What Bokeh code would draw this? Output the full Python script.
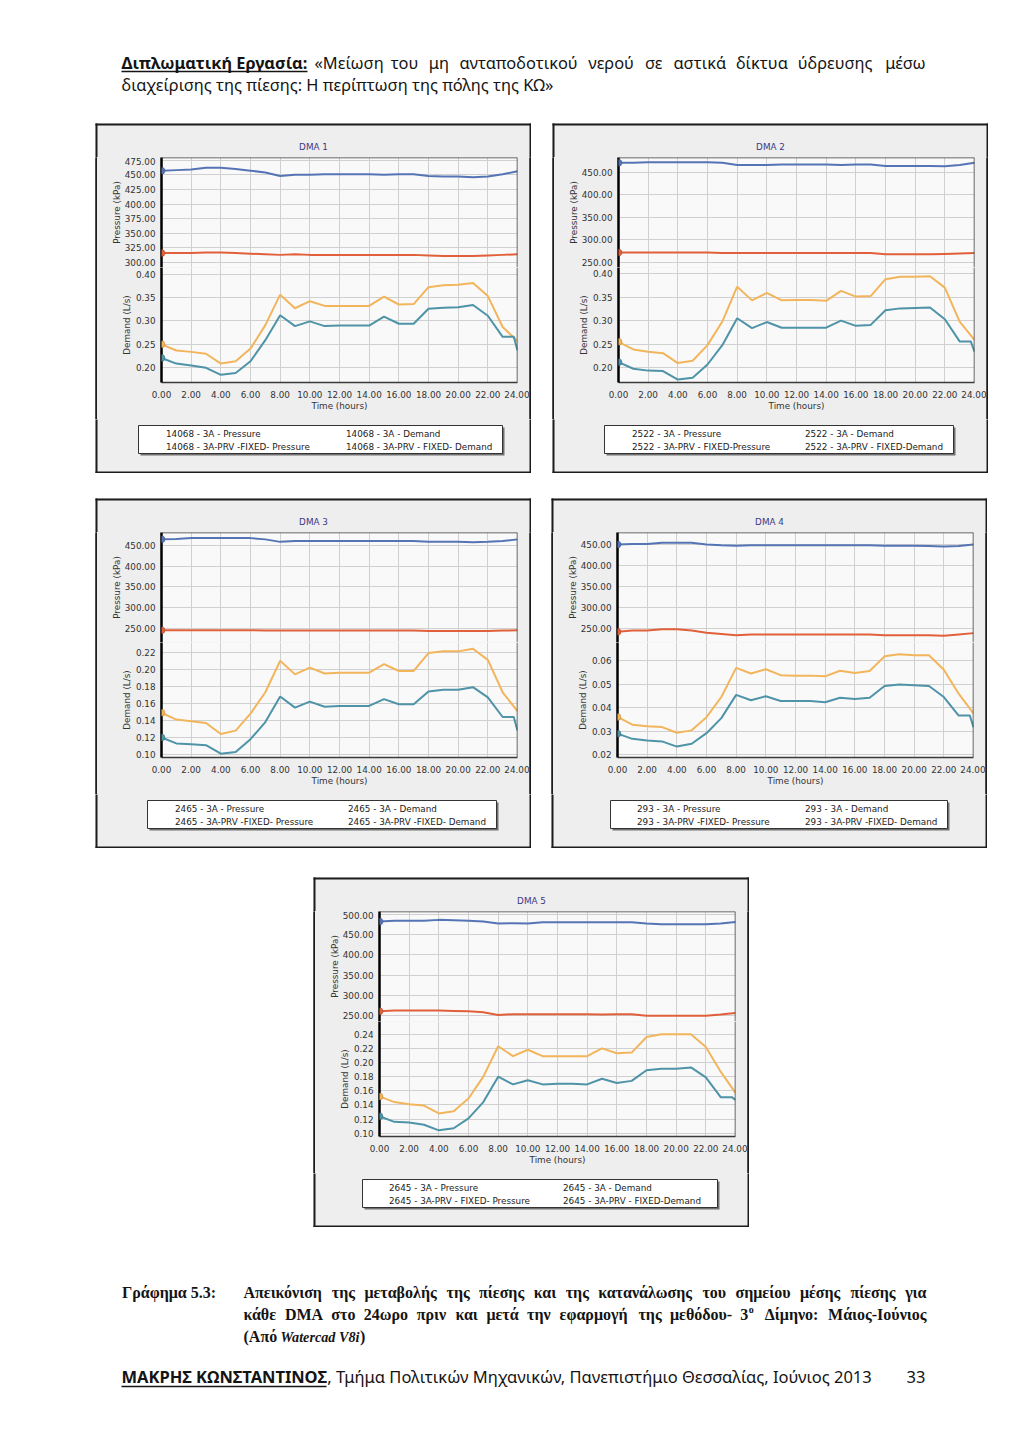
import unicodedata
from bokeh.plotting import figure
from bokeh.layouts import column, row
from bokeh.models import (Range1d, FixedTicker, NumeralTickFormatter, Grid, Span,
                          Legend, LegendItem, Spacer, BoxAnnotation)
from bokeh.embed import file_html
from bokeh.resources import INLINE
from bokeh.core.properties import value

# ---------------- data ----------------
hours = list(range(25))
hours_prv = list(range(24)) + [23.75, 24]
time_ticks = list(range(0, 25, 2))

titles = ["DMA 1", "DMA 2", "DMA 3", "DMA 4", "DMA 5"]

dma1_pressure_3a = [457, 458, 459, 462, 462, 460, 457, 454, 448, 450, 450, 451, 451, 451, 451, 450, 451, 451, 448, 447, 447, 446, 447, 451, 456]
dma1_pressure_prv = [316, 316, 316, 317, 317, 316, 315, 314, 313, 314, 313, 313, 313, 313, 313, 313, 313, 313, 312, 311, 311, 311, 312, 313, 314]
dma1_demand_3a = [0.250, 0.237, 0.234, 0.230, 0.209, 0.214, 0.241, 0.291, 0.356, 0.327, 0.342, 0.332, 0.332, 0.332, 0.332, 0.352, 0.335, 0.336, 0.372, 0.376, 0.377, 0.381, 0.353, 0.287, 0.257]
dma1_demand_prv = [0.221, 0.209, 0.205, 0.200, 0.185, 0.189, 0.214, 0.259, 0.312, 0.289, 0.299, 0.289, 0.290, 0.290, 0.290, 0.309, 0.294, 0.294, 0.326, 0.328, 0.329, 0.334, 0.311, 0.266, 0.266, 0.237]
dma1_pressure_ticks = [300, 325, 350, 375, 400, 425, 450, 475]
dma1_demand_ticks = [0.20, 0.25, 0.30, 0.35, 0.40]
dma1_labels = ["14068 - 3A - Pressure", "14068 - 3A-PRV -FIXED- Pressure",
               "14068 - 3A - Demand", "14068 - 3A-PRV - FIXED- Demand"]

dma2_pressure_3a = [471, 471, 472, 472, 472, 472, 472, 471, 466, 466, 466, 467, 467, 467, 467, 466, 467, 467, 464, 464, 464, 464, 463, 466, 471]
dma2_pressure_prv = [272, 272, 272, 272, 272, 272, 272, 271, 271, 271, 271, 271, 271, 271, 271, 271, 271, 271, 268, 268, 268, 268, 269, 270, 271]
dma2_demand_3a = [0.255, 0.239, 0.234, 0.231, 0.210, 0.215, 0.248, 0.298, 0.372, 0.343, 0.359, 0.343, 0.344, 0.344, 0.342, 0.363, 0.351, 0.352, 0.388, 0.393, 0.393, 0.394, 0.370, 0.298, 0.259]
dma2_demand_prv = [0.212, 0.198, 0.194, 0.193, 0.175, 0.179, 0.207, 0.248, 0.305, 0.284, 0.297, 0.285, 0.285, 0.285, 0.285, 0.300, 0.289, 0.291, 0.322, 0.326, 0.327, 0.328, 0.303, 0.256, 0.256, 0.234]
dma2_pressure_ticks = [250, 300, 350, 400, 450]
dma2_demand_ticks = [0.20, 0.25, 0.30, 0.35, 0.40]
dma2_labels = ["2522 - 3A - Pressure", "2522 - 3A-PRV - FIXED-Pressure",
               "2522 - 3A - Demand", "2522 - 3A-PRV - FIXED-Demand"]

dma3_pressure_3a = [464, 465, 467, 467, 467, 467, 467, 464, 458, 460, 460, 460, 460, 460, 460, 460, 460, 460, 458, 458, 458, 457, 458, 460, 464]
dma3_pressure_prv = [246, 246, 246, 246, 246, 246, 246, 245, 245, 245, 245, 245, 245, 245, 245, 245, 245, 245, 244, 244, 244, 244, 244, 245, 246]
dma3_demand_3a = [0.149, 0.141, 0.139, 0.137, 0.124, 0.128, 0.148, 0.173, 0.210, 0.194, 0.202, 0.195, 0.196, 0.196, 0.196, 0.206, 0.198, 0.198, 0.219, 0.221, 0.221, 0.224, 0.211, 0.173, 0.151]
dma3_demand_prv = [0.120, 0.113, 0.112, 0.111, 0.101, 0.103, 0.118, 0.138, 0.168, 0.155, 0.162, 0.156, 0.157, 0.157, 0.157, 0.165, 0.159, 0.159, 0.174, 0.176, 0.176, 0.179, 0.167, 0.144, 0.144, 0.128]
dma3_pressure_ticks = [250, 300, 350, 400, 450]
dma3_demand_ticks = [0.10, 0.12, 0.14, 0.16, 0.18, 0.20, 0.22]
dma3_labels = ["2465 - 3A - Pressure", "2465 - 3A-PRV -FIXED- Pressure",
               "2465 - 3A - Demand", "2465 - 3A-PRV -FIXED- Demand"]

dma4_pressure_3a = [451, 452, 452, 455, 455, 455, 451, 449, 448, 449, 449, 449, 449, 449, 449, 449, 449, 449, 448, 448, 448, 447, 446, 447, 451]
dma4_pressure_prv = [242, 245, 245, 248, 248, 245, 240, 237, 234, 236, 236, 236, 236, 236, 236, 236, 236, 236, 234, 234, 234, 234, 233, 236, 239]
dma4_demand_3a = [0.0361, 0.0328, 0.0322, 0.0318, 0.0294, 0.0304, 0.0360, 0.0446, 0.0570, 0.0546, 0.0564, 0.0539, 0.0537, 0.0537, 0.0534, 0.0558, 0.0548, 0.0557, 0.0619, 0.0628, 0.0624, 0.0624, 0.0562, 0.0460, 0.0376]
dma4_demand_prv = [0.0290, 0.0268, 0.0261, 0.0257, 0.0235, 0.0247, 0.0292, 0.0356, 0.0455, 0.0432, 0.0449, 0.0429, 0.0429, 0.0429, 0.0424, 0.0443, 0.0437, 0.0443, 0.0493, 0.0499, 0.0496, 0.0493, 0.0446, 0.0367, 0.0367, 0.0318]
dma4_pressure_ticks = [250, 300, 350, 400, 450]
dma4_demand_ticks = [0.02, 0.03, 0.04, 0.05, 0.06]
dma4_labels = ["293 - 3A - Pressure", "293 - 3A-PRV -FIXED- Pressure",
               "293 - 3A - Demand", "293 - 3A-PRV -FIXED- Demand"]

dma5_pressure_3a = [482, 484, 484, 484, 486, 485, 484, 482, 477, 478, 477, 480, 480, 480, 480, 480, 480, 480, 477, 475, 475, 475, 475, 477, 481]
dma5_pressure_prv = [261, 263, 263, 263, 263, 262, 261, 259, 252, 254, 254, 254, 254, 254, 254, 253, 254, 254, 250, 250, 250, 250, 250, 253, 257]
dma5_demand_3a = [0.152, 0.144, 0.141, 0.139, 0.128, 0.131, 0.149, 0.180, 0.223, 0.209, 0.218, 0.209, 0.209, 0.209, 0.209, 0.220, 0.213, 0.214, 0.236, 0.240, 0.240, 0.240, 0.222, 0.187, 0.157]
dma5_demand_prv = [0.124, 0.116, 0.115, 0.112, 0.104, 0.107, 0.121, 0.144, 0.180, 0.169, 0.175, 0.169, 0.170, 0.170, 0.169, 0.177, 0.171, 0.174, 0.189, 0.191, 0.191, 0.193, 0.179, 0.151, 0.151, 0.147]
dma5_pressure_ticks = [250, 300, 350, 400, 450, 500]
dma5_demand_ticks = [0.10, 0.12, 0.14, 0.16, 0.18, 0.20, 0.22, 0.24]
dma5_labels = ["2645 - 3A - Pressure", "2645 - 3A-PRV - FIXED- Pressure",
               "2645 - 3A - Demand", "2645 - 3A-PRV - FIXED-Demand"]

header_bold = "Διπλωματική Εργασία:"
header_line1 = "«Μείωση του μη ανταποδοτικού νερού σε αστικά δίκτυα ύδρευσης μέσω"
header_line2 = "διαχείρισης της πίεσης: Η περίπτωση της πόλης της ΚΩ»"
caption_label = "Γράφημα 5.3:"
caption_l1 = "Απεικόνιση της μεταβολής της πίεσης και της κατανάλωσης του σημείου μέσης πίεσης για"
caption_l2 = "κάθε DMA στο 24ωρο πριν και μετά την εφαρμογή της μεθόδου- 3ο Δίμηνο: Μάιος-Ιούνιος"
caption_l3a = "(Από"
caption_l3b = "Watercad V8i"
caption_l3c = ")"
footer_bold = "ΜΑΚΡΗΣ ΚΩΝΣΤΑΝΤΙΝΟΣ"
footer_rest = ", Τμήμα Πολιτικών Μηχανικών, Πανεπιστήμιο Θεσσαλίας, Ιούνιος 2013"
footer_page = "33"

# ---------------- style ----------------
PANEL_BG = "#eeeeee"
FRAME_BG = "#f9f9f9"
GRID_C = "#d0d0d0"
EDGE = "#3a3a3a"
BORDER = "#1c1c1c"
C_P3A, E_P3A = "#5574b5", "#2b3d66"
C_PPRV, E_PPRV = "#e1603b", "#8a2c12"
C_D3A, E_D3A = "#f2b55c", "#8d6220"
C_DPRV, E_DPRV = "#4e93a7", "#24525e"
FONT = "DejaVu Sans"
FS = "8.8px"
TXT = "#333333"
PW, PH = 436, 350          # panel size
IN_W = 432                 # chart width inside the side borders
FL, FR = 64, 12            # frame margins inside a chart
TOP_H = 34                 # strip holding the top border and the title
P_H = 110                  # pressure frame height
D_H, D_B = 152, 37         # demand figure height and bottom margin
BOT_H = PH - TOP_H - P_H - D_H   # strip holding legend and bottom border
FRAME_W = IN_W - FL - FR


def no_grid(f):
    for g in f.xgrid:
        g.visible = False
    for g in f.ygrid:
        g.visible = False


def plain_fig(w, h, bg):
    f = figure(width=w, height=h, x_range=Range1d(0, w), y_range=Range1d(h, 0),
               toolbar_location=None, output_backend="svg", title_location=None,
               min_border=0, x_axis_location=None, y_axis_location=None,
               outline_line_color=None, background_fill_color=bg, border_fill_color=bg)
    no_grid(f)
    f.quad(left=[-2], right=[w + 2], top=[-2], bottom=[h + 2], fill_color=bg, line_color=None)
    return f


def solid(w, h, color):
    return plain_fig(w, h, color)


def style_axis(ax, label):
    ax.formatter = NumeralTickFormatter(format="0.00")
    ax.axis_label = label
    ax.axis_label_text_font = FONT
    ax.axis_label_text_font_size = FS
    ax.axis_label_text_font_style = "normal"
    ax.axis_label_text_color = TXT
    ax.major_label_text_font = FONT
    ax.major_label_text_font_size = FS
    ax.major_label_text_color = TXT
    ax.major_tick_line_color = None
    ax.minor_tick_line_color = None
    ax.major_tick_out = 0
    ax.major_tick_in = 0
    ax.minor_tick_out = 0
    ax.major_label_standoff = 6


def marker(f, x, y, hx, hy, fill, edge):
    f.add_layout(BoxAnnotation(left=x - hx, right=x + hx, bottom=y - hy, top=y + hy,
                               fill_color=fill, fill_alpha=1, line_color=edge,
                               line_width=1, border_radius=4, level="overlay"))


def border_bands(f, w, h, top, bottom):
    f.quad(left=[-2], right=[2], top=[-2], bottom=[h + 2], fill_color=BORDER, line_color=None)
    f.quad(left=[w - 2], right=[w + 2], top=[-2], bottom=[h + 2], fill_color=BORDER, line_color=None)
    if top:
        f.quad(left=[-2], right=[w + 2], top=[-2], bottom=[2], fill_color=BORDER, line_color=None)
    if bottom:
        f.quad(left=[-2], right=[w + 2], top=[h - 2], bottom=[h + 2], fill_color=BORDER, line_color=None)


def make_panel(title, pt, prng, dt, drng, p3a, pprv, d3a, dprv, labels, lg):
    common = dict(toolbar_location=None, output_backend="svg", title_location=None,
                  min_border_left=FL, min_border_right=FR,
                  background_fill_color=FRAME_BG, border_fill_color=PANEL_BG,
                  outline_line_color=None)
    hx = 3.5 * 24 / FRAME_W

    # top strip: border + title
    tf = plain_fig(PW, TOP_H, PANEL_BG)
    border_bands(tf, PW, TOP_H, True, False)
    tf.text(x=[PW / 2], y=[23], text=[title], text_font=value(FONT), text_font_size=FS,
            text_color="#3a3a86", text_align="center", text_baseline="middle")

    # pressure part
    pf = figure(width=IN_W, height=P_H, x_range=Range1d(0, 24), y_range=Range1d(*prng),
                x_axis_location=None, min_border_top=0, min_border_bottom=0, **common)
    for g in pf.xgrid:
        g.visible = False
    pk = FixedTicker(ticks=pt)
    ay = pf.yaxis[0]
    ay.ticker = pk
    style_axis(ay, "Pressure (kPa)")
    ay.axis_line_width = 2.5
    ay.axis_line_color = "black"
    ay.axis_label_standoff = 0
    pf.ygrid[0].ticker = pk
    pf.ygrid[0].grid_line_color = GRID_C
    pf.add_layout(Grid(dimension=0, ticker=FixedTicker(ticks=time_ticks), grid_line_color=GRID_C))
    pf.line(hours, p3a, line_color=C_P3A, line_width=2)
    pf.line(hours, pprv, line_color=C_PPRV, line_width=2)
    hyp = 3.5 * (prng[1] - prng[0]) / P_H
    marker(pf, hours[0], p3a[0], hx, hyp, C_P3A, E_P3A)
    marker(pf, hours[0], pprv[0], hx, hyp, C_PPRV, E_PPRV)
    pf.add_layout(Span(location=prng[1], dimension="width", line_color=EDGE, line_width=1.5))
    pf.add_layout(Span(location=24, dimension="height", line_color=EDGE, line_width=1.5))

    # demand part
    df = figure(width=IN_W, height=D_H, x_range=Range1d(0, 24), y_range=Range1d(*drng),
                min_border_top=0, min_border_bottom=D_B, **common)
    tk = FixedTicker(ticks=time_ticks)
    ax = df.xaxis[0]
    ax.ticker = tk
    style_axis(ax, "Time (hours)")
    ax.axis_line_color = EDGE
    ax.axis_line_width = 1.5
    ax.major_label_standoff = 8
    ax.axis_label_standoff = 0
    df.xgrid[0].ticker = tk
    df.xgrid[0].grid_line_color = GRID_C
    dk = FixedTicker(ticks=dt)
    ay = df.yaxis[0]
    ay.ticker = dk
    style_axis(ay, "Demand (L/s)")
    ay.axis_line_width = 2.5
    ay.axis_line_color = "black"
    ay.axis_label_standoff = 1
    df.ygrid[0].ticker = dk
    df.ygrid[0].grid_line_color = GRID_C
    df.line(hours, d3a, line_color=C_D3A, line_width=2)
    df.line(hours_prv, dprv, line_color=C_DPRV, line_width=2)
    hyd = 3.5 * (drng[1] - drng[0]) / (D_H - D_B)
    marker(df, hours[0], d3a[0], hx, hyd, C_D3A, E_D3A)
    marker(df, hours_prv[0], dprv[0], hx, hyd, C_DPRV, E_DPRV)
    df.add_layout(Span(location=24, dimension="height", line_color=EDGE, line_width=1.5))

    # bottom strip: legend + border
    lf = plain_fig(PW, BOT_H, PANEL_BG)
    border_bands(lf, PW, BOT_H, False, True)
    bl, br, g1, g2 = lg
    lf.quad(left=[bl + 2], right=[br + 2], top=[8], bottom=[36], fill_color="#707070", line_color=None)
    lf.quad(left=[bl], right=[br], top=[6], bottom=[34], fill_color="white",
            line_color="#333333", line_width=1)
    rs = [lf.line(x=[], y=[], line_color=c, line_width=2) for c in (C_P3A, C_PPRV, C_D3A, C_DPRV)]

    def leg(items, x):
        return Legend(items=items, location=(x, BOT_H - 33), orientation="vertical",
                      padding=2, spacing=2, margin=0, label_height=11, glyph_height=11,
                      glyph_width=15, label_standoff=10, label_text_font=FONT,
                      label_text_font_size=FS, label_text_color="#222222",
                      border_line_color=None, background_fill_alpha=0)
    lf.add_layout(leg([LegendItem(label=labels[0], renderers=[rs[0]]),
                       LegendItem(label=labels[1], renderers=[rs[1]])], g1 - 2))
    lf.add_layout(leg([LegendItem(label=labels[2], renderers=[rs[2]]),
                       LegendItem(label=labels[3], renderers=[rs[3]])], g2 - 2))

    mid_h = P_H + D_H
    charts = column(pf, df, spacing=0)
    return column(tf,
                  row(solid(2, mid_h, BORDER), charts, solid(2, mid_h, BORDER), spacing=0),
                  lf, spacing=0, styles={"background-color": PANEL_BG})


panels = [
    make_panel(titles[0], dma1_pressure_ticks, (291.4, 479.6), dma1_demand_ticks, (0.1687, 0.4139),
               dma1_pressure_3a, dma1_pressure_prv, dma1_demand_3a, dma1_demand_prv, dma1_labels,
               (43, 407, 48, 228)),
    make_panel(titles[1], dma2_pressure_ticks, (238.9, 482.6), dma2_demand_ticks, (0.1688, 0.4127),
               dma2_pressure_3a, dma2_pressure_prv, dma2_demand_3a, dma2_demand_prv, dma2_labels,
               (52, 401, 57, 230)),
    make_panel(titles[2], dma3_pressure_ticks, (216.4, 480.5), dma3_demand_ticks, (0.0965, 0.2314),
               dma3_pressure_3a, dma3_pressure_prv, dma3_demand_3a, dma3_demand_prv, dma3_labels,
               (52, 401, 57, 230)),
    make_panel(titles[3], dma4_pressure_ticks, (216.6, 479.4), dma4_demand_ticks, (0.01885, 0.0678),
               dma4_pressure_3a, dma4_pressure_prv, dma4_demand_3a, dma4_demand_prv, dma4_labels,
               (59, 396, 63, 231)),
    make_panel(titles[4], dma5_pressure_ticks, (236.0, 506.6), dma5_demand_ticks, (0.0953, 0.258),
               dma5_pressure_3a, dma5_pressure_prv, dma5_demand_3a, dma5_demand_prv, dma5_labels,
               (49, 404, 53, 227)),
]

# ---------------- text blocks ----------------
SERIF_EM = {"α": .56, "β": .55, "γ": .5, "δ": .5, "ε": .44, "ζ": .44, "η": .56, "θ": .5,
            "ι": .28, "κ": .56, "λ": .5, "μ": .58, "ν": .5, "ξ": .44, "ο": .5, "π": .56,
            "ρ": .56, "σ": .56, "ς": .44, "τ": .44, "υ": .53, "φ": .72, "χ": .5, "ψ": .72,
            "ω": .72, "Γ": .61, "Α": .72, "Δ": .7, "Μ": .94, "Ι": .39, "D": .72, "M": .94,
            "A": .72, " ": .25, ".": .25, ":": .333, "-": .333, "(": .333, ")": .333}
SANS_EM = {"α": .6, "β": .59, "γ": .53, "δ": .58, "ε": .49, "ζ": .47, "η": .61, "θ": .58,
           "ι": .31, "κ": .55, "λ": .54, "μ": .62, "ν": .53, "ξ": .48, "ο": .6, "π": .64,
           "ρ": .6, "σ": .61, "ς": .5, "τ": .48, "υ": .59, "φ": .77, "χ": .53, "ψ": .78,
           "ω": .81, "«": .5, "»": .5, " ": .26, ":": .27, ",": .27}


def em(s, table, default):
    tot = 0.0
    for ch in s:
        base = unicodedata.normalize("NFD", ch)[0]
        tot += table.get(base, 0.5 if base.isdigit() else default)
    return tot


# calibration from measured natural widths of an earlier rendering
K_SERIF = 713.0 / (em("Γράφημα 5.3: " + caption_l1, SERIF_EM, 0.72) * 16)
K_SANS = 526.0 / (em(header_line1, SANS_EM, 0.66) * 15.5)


def justified(words, x0, x1, size, table, default, k):
    widths = [em(w, table, default) * size * k for w in words]
    gap = (x1 - x0 - sum(widths)) / (len(words) - 1)
    xs, x = [], x0
    for w in widths:
        xs.append(x)
        x += w + gap
    return xs


def txt(f, x, y, s, size, font, style="normal", align="left", color="#141414"):
    f.text(x=[x], y=[y], text=[s], text_font=value(font), text_font_size=size,
           text_font_style=style, text_align=align, text_baseline="middle", text_color=color)


SANS = "Noto Sans"
SERIF = "Liberation Serif"
HS = 16.4

header = plain_fig(1016, 123, "white")
txt(header, 121, 62, header_bold, f"{HS}px", SANS, "bold")
header.segment(x0=[121], y0=[71], x1=[307], y1=[71], line_color="#141414", line_width=1.3)
w1 = header_line1.split(" ")
xs = justified(w1, 314, 925, HS, SANS_EM, 0.66, K_SANS)
for x, w in zip(xs[:-1], w1[:-1]):
    txt(header, x, 62, w, f"{HS}px", SANS)
txt(header, 925, 62, w1[-1], f"{HS}px", SANS, align="right")
txt(header, 121, 84, header_line2, f"{HS}px", SANS)

CS = 16
caption = plain_fig(1016, 190, "white")
txt(caption, 121.5, 65, caption_label, f"{CS}px", SERIF, "bold")
w1 = caption_l1.split(" ")
xs = justified(w1, 243, 926, CS, SERIF_EM, 0.72, K_SERIF)
for x, w in zip(xs[:-1], w1[:-1]):
    txt(caption, x, 65, w, f"{CS}px", SERIF, "bold")
txt(caption, 926, 65, w1[-1], f"{CS}px", SERIF, "bold", align="right")

w2 = caption_l2.split(" ")
xs = justified(w2, 243, 926, CS, SERIF_EM, 0.72, K_SERIF)
for x, w in zip(xs[:-1], w2[:-1]):
    if w == "3ο":
        txt(caption, x, 87, w[0], f"{CS}px", SERIF, "bold")
        txt(caption, x + 0.5 * CS * K_SERIF + 0.5, 82, w[1], "10px", SERIF, "bold")
    else:
        txt(caption, x, 87, w, f"{CS}px", SERIF, "bold")
txt(caption, 926, 87, w2[-1], f"{CS}px", SERIF, "bold", align="right")

txt(caption, 243, 109, caption_l3a, f"{CS}px", SERIF, "bold")
txt(caption, 280, 109, caption_l3b, "14.2px", SERIF, "bold italic")
txt(caption, 359.5, 109, caption_l3c, f"{CS}px", SERIF, "bold")

FS2 = 16.5
txt(caption, 121, 149, footer_bold, f"{FS2}px", SANS, "bold")
caption.segment(x0=[121], y0=[159], x1=[326], y1=[159], line_color="#141414", line_width=1.3)
txt(caption, 326.7, 149, footer_rest, f"{FS2}px", SANS)
txt(caption, 925, 149, footer_page, f"{FS2}px", SANS, align="right")

root = column(
    header,
    row(Spacer(width=95, height=PH), panels[0], Spacer(width=21, height=PH), panels[1], spacing=0),
    Spacer(width=1016, height=25),
    row(Spacer(width=95, height=PH), panels[2], Spacer(width=20, height=PH), panels[3], spacing=0),
    Spacer(width=1016, height=29),
    row(Spacer(width=313, height=PH), panels[4], spacing=0),
    caption,
    spacing=0,
)

open("out.html", "w").write(file_html(root, INLINE, "DMA pressure and demand"))
